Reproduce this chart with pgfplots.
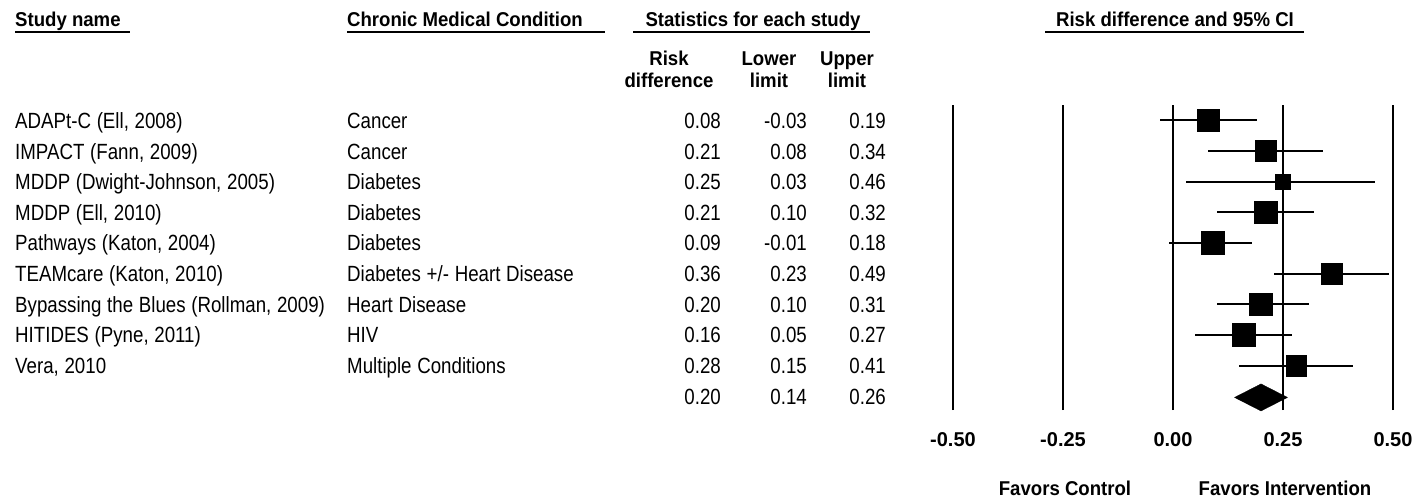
\documentclass[border=0pt]{standalone}
\usepackage{pgfplots}
\pgfplotsset{compat=1.18}
\usepackage{pgfplotstable}
\usepackage{fontspec}
\setmainfont{Liberation Sans}[FakeStretch=0.85, WordSpace=1.1]
\newfontfamily\hdfont{Liberation Sans}[FakeStretch=0.93]
\newfontfamily\tkfont{Liberation Sans}

\pgfplotstableread{
row rd lo hi ms
1 0.08 -0.03 0.19 11
2 0.21 0.08 0.34 10.35
3 0.25 0.03 0.46 7.5
4 0.21 0.10 0.32 11.35
5 0.09 -0.01 0.18 11.65
6 0.36 0.23 0.49 10.5
7 0.20 0.10 0.31 11.35
8 0.16 0.05 0.27 11.35
9 0.28 0.15 0.41 10.35
}\studies

\newcommand{\fs}{\fontsize{22bp}{26bp}\selectfont}
\newcommand{\hs}{\hdfont\bfseries\fontsize{20bp}{24bp}\selectfont}

\begin{document}
\begin{tikzpicture}[every node/.style={font=\fs, inner sep=0pt}]
\path[use as bounding box] (0,0) rectangle (1416bp,-499bp);

\begin{axis}[
  at={(953bp,-410bp)}, anchor=south west,
  width=440bp, height=305bp, scale only axis,
  xmin=-0.5, xmax=0.5, ymin=-10.45, ymax=-0.5,
  axis line style={draw=none},
  major tick length=0pt,
  ytick=\empty,
  xtick={-0.5,-0.25,0,0.25,0.5},
  xticklabels={-0.50,-0.25,0.00,0.25,0.50},
  xticklabel style={font=\tkfont\bfseries\fontsize{20bp}{24bp}\selectfont, inner sep=0pt, yshift=-22bp},
  xmajorgrids,
  grid style={black, line width=2.7bp},
  clip=false,
]
\addplot[only marks, black, mark=square*,
  scatter, scatter/use mapped color={draw=black, fill=black},
  visualization depends on={\thisrow{ms} \as \msz},
  scatter/@pre marker code/.append style={/tikz/mark size=\msz bp},
  error bars/.cd, x dir=both, x explicit, error mark=none,
  error bar style={line width=2bp, black}]
  table[x=rd, y expr=-\thisrow{row},
        x error minus expr=\thisrow{rd}-\thisrow{lo},
        x error plus expr=\thisrow{hi}-\thisrow{rd}] {\studies};
\addplot[fill=black, draw=black] coordinates {(0.14,-10.04) (0.20,-9.60) (0.26,-10.04) (0.20,-10.48)} -- cycle;
\end{axis}

% headers
\node[anchor=base west, font=\hs] at (15bp,-26bp) {Study name};
\draw[line width=1.8bp] (15bp,-31.7bp) -- (130bp,-31.7bp);
\node[anchor=base west, font=\hs] at (347bp,-26bp) {Chronic Medical Condition};
\draw[line width=1.8bp] (347bp,-31.7bp) -- (605bp,-31.7bp);
\node[anchor=base, font=\hs] at (753bp,-26bp) {Statistics for each study};
\draw[line width=1.8bp] (633bp,-31.7bp) -- (870bp,-31.7bp);
\node[anchor=base, font=\hs] at (1175bp,-26bp) {Risk difference and 95\% CI};
\draw[line width=1.8bp] (1045bp,-31.7bp) -- (1304bp,-31.7bp);

\node[anchor=base, font=\hs] at (669bp,-65bp) {Risk};
\node[anchor=base, font=\hs] at (669bp,-87bp) {difference};
\node[anchor=base, font=\hs] at (769bp,-65bp) {Lower};
\node[anchor=base, font=\hs] at (769bp,-87bp) {limit};
\node[anchor=base, font=\hs] at (847bp,-65bp) {Upper};
\node[anchor=base, font=\hs] at (847bp,-87bp) {limit};

% rows
\foreach \y/\name/\cond/\rd/\lo/\hi in {
  128.3/{ADAPt-C (Ell, 2008)}/Cancer/0.08/-0.03/0.19,
  159.0/{IMPACT (Fann, 2009)}/Cancer/0.21/0.08/0.34,
  189.6/{MDDP (Dwight-Johnson, 2005)}/Diabetes/0.25/0.03/0.46,
  220.3/{MDDP (Ell, 2010)}/Diabetes/0.21/0.10/0.32,
  250.9/{Pathways (Katon, 2004)}/Diabetes/0.09/-0.01/0.18,
  281.6/{TEAMcare (Katon, 2010)}/{Diabetes +/- Heart Disease}/0.36/0.23/0.49,
  312.2/{Bypassing the Blues (Rollman, 2009)}/{Heart Disease}/0.20/0.10/0.31,
  342.9/{HITIDES (Pyne, 2011)}/HIV/0.16/0.05/0.27,
  373.5/{Vera, 2010}/{Multiple Conditions}/0.28/0.15/0.41,
  404.2/{}/{}/0.20/0.14/0.26}{
  \node[anchor=base west] at (15bp,-\y bp) {\name};
  \node[anchor=base west] at (347bp,-\y bp) {\cond};
  \node[anchor=base east] at (721bp,-\y bp) {\rd};
  \node[anchor=base east] at (807bp,-\y bp) {\lo};
  \node[anchor=base east] at (886bp,-\y bp) {\hi};
}

\node[anchor=base, font=\hs] at (1065bp,-495.7bp) {Favors Control};
\node[anchor=base, font=\hs] at (1285bp,-495.7bp) {Favors Intervention};
\end{tikzpicture}
\end{document}
